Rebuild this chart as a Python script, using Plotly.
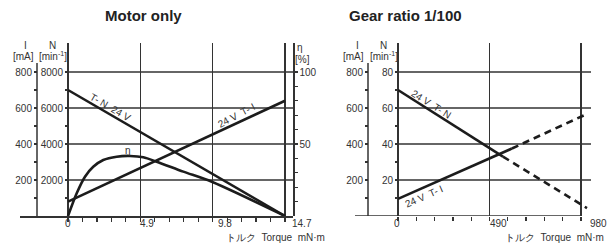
import plotly.graph_objects as go

# ---------------- data ----------------
# Motor only
motor_torque_line = [0, 14.7]
motor_speed = [7000, 0]          # min^-1
motor_current = [80, 640]        # mA
eff_torque = [0, 0.59, 1.15, 1.71, 2.39, 3.30, 4.20, 5.10, 6.01, 7.81, 9.74, 14.7]
eff_values = [0, 15.8, 27.3, 34.2, 38.9, 41.2, 41.7, 40.8, 37.7, 30.8, 23.8, 0]   # %

# Gear ratio 1/100
gear_tn_solid_x = [0, 562]
gear_tn_solid_y = [70, 33]
gear_tn_dash_x = [562, 1012]
gear_tn_dash_y = [33, 4.4]
gear_ti_solid_x = [0, 610]
gear_ti_solid_y = [95, 375]
gear_ti_dash_x = [610, 1012]
gear_ti_dash_y = [375, 567]

motor_xticks = [0, 4.9, 9.8, 14.7]
motor_xtick_text = ["0", "4.9", "9.8", "14.7"]
gear_xticks = [0, 490, 980]
gear_xtick_text = ["0", "490", "980"]
n_ticks_motor = [2000, 4000, 6000, 8000]
n_ticks_gear = [20, 40, 60, 80]
i_ticks = [200, 400, 600, 800]
eta_ticks = [50, 100]

# ---------------- layout helpers ----------------
W, H = 612, 244
def fx(p):
    return p / W
def fy(p):
    return 1 - p / H

FONT = "Liberation Sans, Arial, sans-serif"
LINE = "#1c1c1c"
GRID = "#333333"
TXT = "#333333"

Y_TOP, Y_BOT = 43, 216
ydom = [fy(Y_BOT), fy(Y_TOP)]

# left chart x: 0 at px 68, 14.7 at px 285
L0, L1 = 68, 285
ls = (L1 - L0) / 14.7
lx_range = [(20 - L0) / ls, (293 - L0) / ls]
# right chart x: 0 at px 398, 980 at px 581
R0, R1 = 398, 581
rs = (R1 - R0) / 980
rx_range = [(355 - R0) / rs, (591 - R0) / rs]

n_motor_max = 8000 * (Y_BOT - Y_TOP) / 144
i_max = 800 * (Y_BOT - Y_TOP) / 144
eta_max = 100 * (Y_BOT - Y_TOP) / 144
n_gear_max = 80 * (Y_BOT - Y_TOP) / 144

fig = go.Figure()

lw = 2.6
fig.add_trace(go.Scatter(x=motor_torque_line, y=motor_speed, mode="lines",
                         line=dict(color=LINE, width=lw), xaxis="x", yaxis="y"))
fig.add_trace(go.Scatter(x=motor_torque_line, y=motor_current, mode="lines",
                         line=dict(color=LINE, width=lw), xaxis="x", yaxis="y2"))
fig.add_trace(go.Scatter(x=eff_torque, y=eff_values, mode="lines",
                         line=dict(color=LINE, width=lw, shape="spline", smoothing=0.8),
                         xaxis="x", yaxis="y3"))

fig.add_trace(go.Scatter(x=gear_tn_solid_x, y=gear_tn_solid_y, mode="lines",
                         line=dict(color=LINE, width=lw), xaxis="x2", yaxis="y4"))
fig.add_trace(go.Scatter(x=gear_tn_dash_x, y=gear_tn_dash_y, mode="lines",
                         line=dict(color=LINE, width=lw, dash="7px,5px"), xaxis="x2", yaxis="y4"))
fig.add_trace(go.Scatter(x=gear_ti_solid_x, y=gear_ti_solid_y, mode="lines",
                         line=dict(color=LINE, width=lw), xaxis="x2", yaxis="y5"))
fig.add_trace(go.Scatter(x=gear_ti_dash_x, y=gear_ti_dash_y, mode="lines",
                         line=dict(color=LINE, width=lw, dash="7px,5px"), xaxis="x2", yaxis="y5"))

tickfont = dict(family=FONT, size=10, color=TXT)

def minor(vals):
    return dict(tickmode="array", tickvals=vals, ticks="outside", ticklen=3,
                tickcolor=GRID, tickwidth=1.2, showgrid=False)

common_y = dict(showgrid=False, zeroline=False, ticks="outside", ticklen=3,
                tickcolor=GRID, tickwidth=1.2, tickfont=tickfont, tickmode="array",
                fixedrange=True)

fig.update_layout(
    width=W, height=H, margin=dict(l=0, r=0, t=0, b=0),
    paper_bgcolor="white", plot_bgcolor="white", showlegend=False, hovermode=False,
    xaxis=dict(domain=[fx(20), fx(293)], range=lx_range, anchor="y",
               showline=True, linecolor=GRID, linewidth=1.5, zeroline=False,
               showgrid=True, gridcolor=GRID, gridwidth=1.5,
               tickmode="array", tickvals=motor_xticks, showticklabels=False,
               ticks="outside", ticklen=4, tickcolor=GRID, tickwidth=1.2,
               minor=dict(tickmode="array", tickvals=[round(i * 0.98, 2) for i in range(16)],
                          ticks="outside", ticklen=4, tickcolor=GRID, tickwidth=1.2, showgrid=False)),
    yaxis=dict(domain=ydom, range=[0, n_motor_max], anchor="free", position=fx(L0),
               tickvals=n_ticks_motor, minor=minor([1000, 3000, 5000, 7000]), **common_y),
    yaxis2=dict(overlaying="y", range=[0, i_max], anchor="free", position=fx(37), side="left",
                tickvals=i_ticks, minor=minor([100, 300, 500, 700]), **common_y),
    yaxis3=dict(overlaying="y", range=[0, eta_max], anchor="free", position=fx(293), side="right",
                showline=True, linecolor=GRID, linewidth=1.5,
                tickvals=eta_ticks, minor=minor([10, 20, 30, 40, 60, 70, 80, 90]), **common_y),
    xaxis2=dict(domain=[fx(355), fx(591)], range=rx_range, anchor="y4",
                showline=False, zeroline=False,
                showgrid=True, gridcolor=GRID, gridwidth=1.5,
                tickmode="array", tickvals=gear_xticks, showticklabels=False,
                ticks="outside", ticklen=4, tickcolor=GRID, tickwidth=1.2,
                minor=dict(tickmode="array", tickvals=[i * 98 for i in range(11)],
                           ticks="outside", ticklen=4, tickcolor=GRID, tickwidth=1.2, showgrid=False)),
    yaxis4=dict(domain=ydom, range=[0, n_gear_max], anchor="free", position=fx(R0),
                tickvals=n_ticks_gear, minor=minor([10, 30, 50, 70]), **common_y),
    yaxis5=dict(overlaying="y4", range=[0, i_max], anchor="free", position=fx(368), side="left",
                tickvals=i_ticks, minor=minor([100, 300, 500, 700]), **common_y),
)

shapes = []
for v in n_ticks_motor:
    shapes.append(dict(type="line", xref="x", yref="y", x0=0, x1=lx_range[1], y0=v, y1=v,
                       line=dict(color=GRID, width=1.5), layer="below"))
for v in n_ticks_gear:
    shapes.append(dict(type="line", xref="x2", yref="y4", x0=0, x1=rx_range[1], y0=v, y1=v,
                       line=dict(color=GRID, width=1.5), layer="below"))
# right chart bottom axis line
shapes.append(dict(type="line", xref="x2", yref="y4", x0=rx_range[0], x1=980, y0=0, y1=0,
                   line=dict(color=GRID, width=1.5)))
# current axis lines
shapes.append(dict(type="line", xref="paper", yref="y2", x0=fx(37), x1=fx(37), y0=0, y1=850,
                   line=dict(color=GRID, width=1.5)))
shapes.append(dict(type="line", xref="paper", yref="y5", x0=fx(368), x1=fx(368), y0=0, y1=850,
                   line=dict(color=GRID, width=1.5)))
fig.update_layout(shapes=shapes)

ann = []
def text(x, y, s, size=10, xanchor="center", bold=False, **kw):
    ann.append(dict(x=x, y=y, xref=kw.pop("xref", "paper"), yref=kw.pop("yref", "paper"),
                    text=f"<b>{s}</b>" if bold else s, showarrow=False,
                    xanchor=xanchor, yanchor="middle",
                    font=dict(family=FONT, size=size, color="#222" if bold else TXT), **kw))

# titles
text(fx(143), fy(16), "Motor only", size=15, bold=True)
text(fx(405), fy(16), "Gear ratio 1/100", size=15, bold=True)

# axis titles
text(fx(25), fy(45.5), "I")
text(fx(23.5), fy(56), "[mA]")
text(fx(52), fy(45.5), "N")
text(fx(53), fy(56), "[min<sup>-1</sup>]")
text(fx(300), fy(47), "η")
text(fx(302), fy(59), "[%]")
text(fx(357), fy(45.5), "I")
text(fx(353.5), fy(56), "[mA]")
text(fx(383), fy(45.5), "N")
text(fx(384), fy(56), "[min<sup>-1</sup>]")

# x tick labels
for v, s, sh in zip(motor_xticks, motor_xtick_text, [0, 7, 12.5, 17]):
    text(v, fy(223.5), s, xref="x", xshift=sh)
for v, s, sh in zip(gear_xticks, gear_xtick_text, [-1.5, 8.5, 17]):
    text(v, fy(223.5), s, xref="x2", xshift=sh)

text(fx(224), fy(237), "トルク  Torque  mN·m", xanchor="left")
text(fx(503), fy(237), "トルク  Torque  mN·m", xanchor="left")

# line labels
text(2.91, 6055, "T- N  24 V", xref="x", yref="y", textangle=30)
text(11.38, 561, "24 V  T- I", xref="x", yref="y2", textangle=-28)
text(4.07, 45.8, "η", xref="x", yref="y3")
text(182, 62.2, "24 V  T- N", xref="x2", yref="y4", textangle=32)
text(139, 105.6, "24 V  T- I", xref="x2", yref="y5", textangle=-24)

fig.update_layout(annotations=ann)
fig.write_html("out.html", config={"displayModeBar": False, "staticPlot": True},
               post_script="document.body.style.margin='0';")
